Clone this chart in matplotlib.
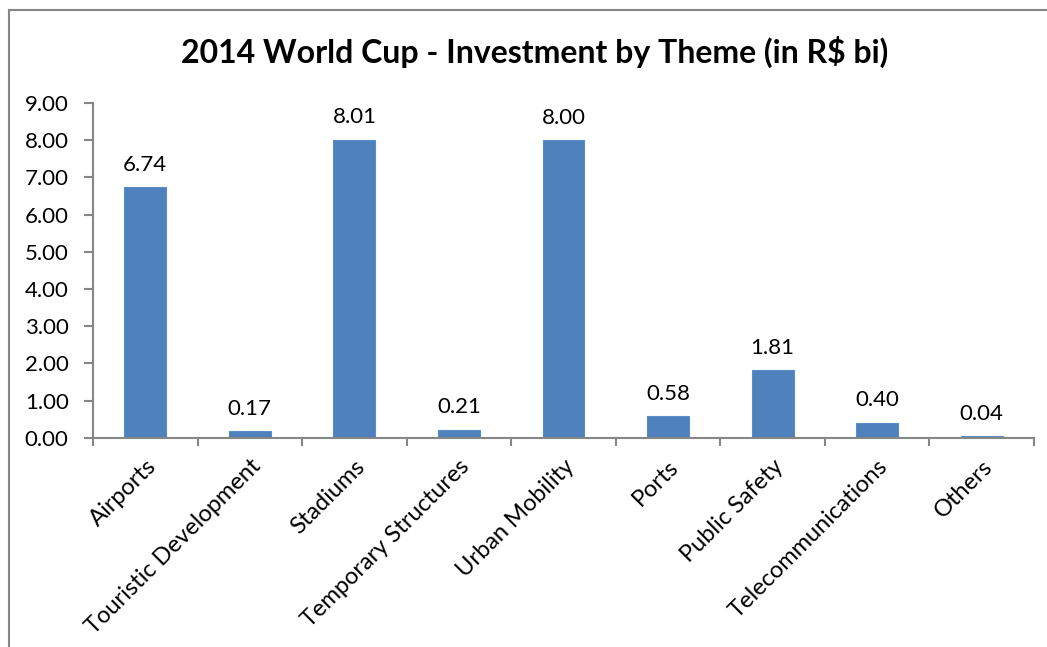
import matplotlib
matplotlib.use("Agg")
import matplotlib.pyplot as plt
from matplotlib.lines import Line2D

categories = ["Airports", "Touristic Development", "Stadiums", "Temporary Structures",
              "Urban Mobility", "Ports", "Public Safety", "Telecommunications", "Others"]
values = [6.74, 0.17, 8.01, 0.21, 8.00, 0.58, 1.81, 0.40, 0.04]
y_ticks = [0, 1, 2, 3, 4, 5, 6, 7, 8, 9]

plt.rcParams["font.family"] = ["Lato", "DejaVu Sans"]

BAR = "#4F81BD"
AXIS = "#868686"

fig = plt.figure(figsize=(10.47, 6.47), dpi=100)
ax = fig.add_axes([93 / 1047, 1 - 437.7 / 647, (1034 - 93) / 1047, (437.7 - 103) / 647])

x = list(range(len(categories)))
bars = ax.bar(x, values, width=0.4, color=BAR, edgecolor="#5B8CC6", linewidth=0.8)

for xi, v in zip(x, values):
    ax.annotate(f"{v:.2f}", xy=(xi, v), xytext=(0, 9), textcoords="offset points",
                ha="center", va="bottom", fontsize=16)

ax.set_xlim(-0.5, len(categories) - 0.5)
ax.set_ylim(0, 9)
ax.set_yticks(y_ticks)
ax.set_yticklabels([f"{t:.2f}" for t in y_ticks], fontsize=16)

# category ticks sit between bars, labels at bar centres
ax.set_xticks([i - 0.5 for i in range(len(categories) + 1)])
ax.set_xticklabels([])
ax.set_xticks(x, minor=True)
ax.set_xticklabels(categories, minor=True, rotation=45, ha="right", va="top",
                   rotation_mode="anchor", fontsize=17)
ax.tick_params(axis="x", which="minor", length=0, pad=13)
ax.tick_params(axis="x", which="major", length=6, color=AXIS, width=1.5, direction="out")
ax.tick_params(axis="y", length=6.5, color=AXIS, width=1.5, direction="out", pad=11)

for side in ("top", "right"):
    ax.spines[side].set_visible(False)
for side in ("left", "bottom"):
    ax.spines[side].set_color(AXIS)
    ax.spines[side].set_linewidth(1.5)

fig.text(535 / 1047, 1 - 52 / 647, "2014 World Cup - Investment by Theme (in R$ bi)",
         ha="center", va="center", fontsize=23, fontweight="bold")

# chart frame (runs off the right and bottom edges)
fig.add_artist(Line2D([9 / 1047, 1.0], [1 - 10 / 647] * 2, color=AXIS, lw=1.5,
                      transform=fig.transFigure))
fig.add_artist(Line2D([9 / 1047] * 2, [0.0, 1 - 10 / 647], color=AXIS, lw=1.5,
                      transform=fig.transFigure))

fig.savefig("out.png", dpi=100)
